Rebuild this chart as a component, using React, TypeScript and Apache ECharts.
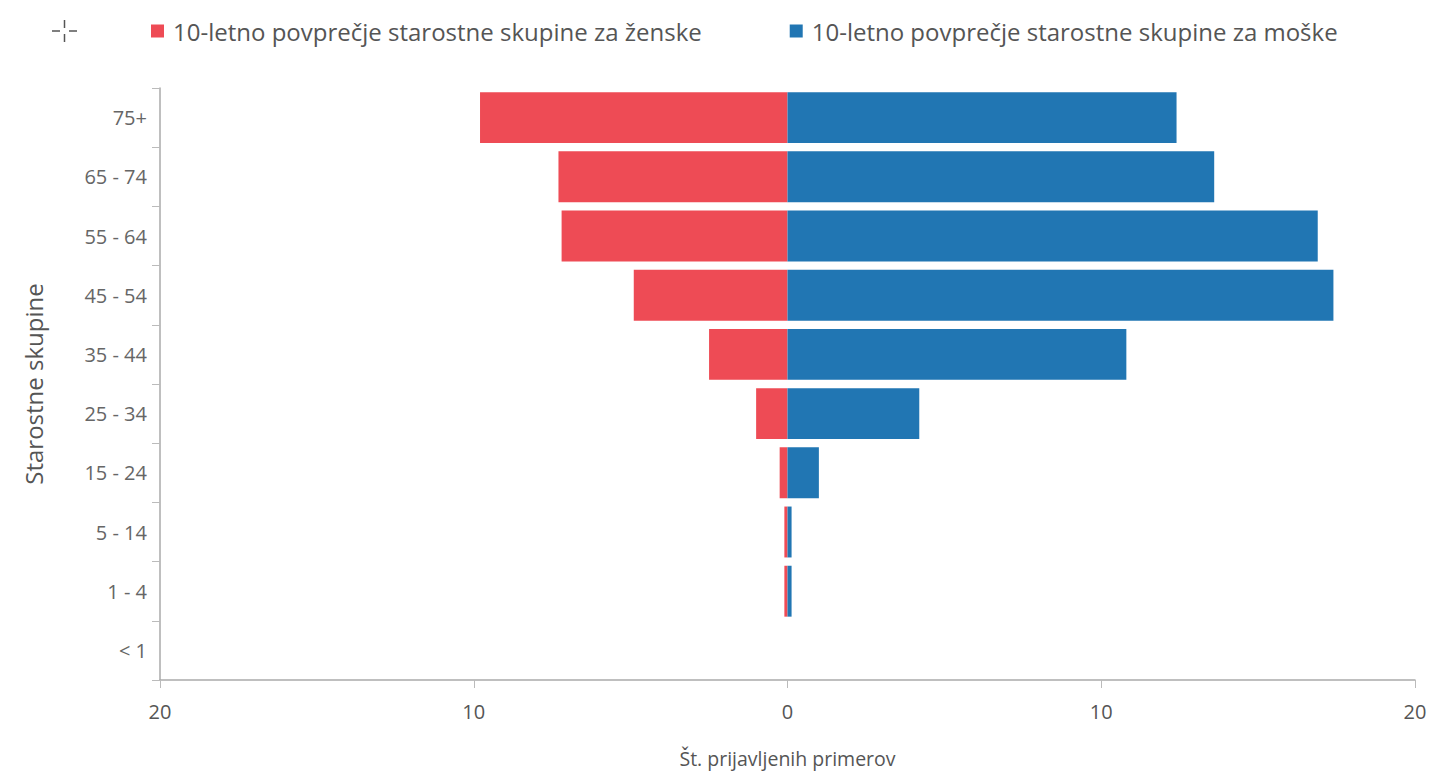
import React, { useEffect, useRef } from "react";
import * as echarts from "echarts";

const categories = ["< 1", "1 - 4", "5 - 14", "15 - 24", "25 - 34", "35 - 44", "45 - 54", "55 - 64", "65 - 74", "75+"];
const women = [0, 0.1, 0.1, 0.25, 1.0, 2.5, 4.9, 7.2, 7.3, 9.8];
const men = [0, 0.13, 0.13, 1.0, 4.2, 10.8, 17.4, 16.9, 13.6, 12.4];
const womenName = "10-letno povprečje starostne skupine za ženske";
const menName = "10-letno povprečje starostne skupine za moške";
const xTicks = [-20, -10, 0, 10, 20];

const FONT = "'Open Sans', sans-serif";

export default function App() {
  const ref = useRef<HTMLDivElement>(null);
  useEffect(() => {
    if (!ref.current) return;
    const chart = echarts.init(ref.current, undefined, { renderer: "svg" });
    chart.setOption({
      animation: false,
      textStyle: { fontFamily: FONT },
      legend: {
        left: 151,
        top: 19,
        padding: 0,
        itemWidth: 13,
        itemHeight: 13,
        itemGap: 88,
        icon: "rect",
        textStyle: { fontSize: 24, color: "#555", fontFamily: FONT, padding: [0, 0, 0, 4] },
        data: [womenName, menName],
      },
      graphic: [
        { type: "line", shape: { x1: 52, y1: 31, x2: 60, y2: 31 }, style: { stroke: "#555", lineWidth: 1.5 } },
        { type: "line", shape: { x1: 69, y1: 31, x2: 77, y2: 31 }, style: { stroke: "#555", lineWidth: 1.5 } },
        { type: "line", shape: { x1: 64.5, y1: 20, x2: 64.5, y2: 28 }, style: { stroke: "#555", lineWidth: 1.5 } },
        { type: "line", shape: { x1: 64.5, y1: 34, x2: 64.5, y2: 42 }, style: { stroke: "#555", lineWidth: 1.5 } },
      ],
      grid: { left: 160, right: 16, top: 88, bottom: 94 },
      xAxis: {
        type: "value",
        min: -20,
        max: 20,
        interval: 10,
        name: "Št. prijavljenih primerov",
        nameLocation: "middle",
        nameGap: 68,
        nameTextStyle: { fontSize: 19.5, color: "#555" },
        axisLine: { show: true, lineStyle: { color: "#aaa", width: 1.5 } },
        axisTick: { show: true, length: 8, lineStyle: { color: "#bbb" } },
        axisLabel: {
          fontSize: 20,
          color: "#555",
          margin: 21,
          formatter: (v: number) => String(Math.abs(v)),
          customValues: xTicks,
        },
        splitLine: { show: false },
      },
      yAxis: {
        type: "category",
        data: categories,
        name: "Starostne skupine",
        nameLocation: "middle",
        nameGap: 115,
        nameRotate: 90,
        nameTextStyle: { fontSize: 24, color: "#555" },
        axisLine: { show: true, onZero: false, lineStyle: { color: "#aaa", width: 1.5 } },
        axisTick: { show: true, length: 8, lineStyle: { color: "#bbb" } },
        axisLabel: { fontSize: 20, color: "#666", margin: 13 },
      },
      series: [
        {
          name: womenName,
          type: "bar",
          stack: "total",
          data: women.map((v) => -v),
          barCategoryGap: "14%",
          itemStyle: { color: "#ee4b55" },
        },
        {
          name: menName,
          type: "bar",
          stack: "total",
          data: men,
          barCategoryGap: "14%",
          itemStyle: { color: "#2176b3" },
        },
      ],
    });
    return () => chart.dispose();
  }, []);
  return (
    <div
      ref={ref}
      style={{ position: "absolute", left: 0, top: 0, width: 1431, height: 774, background: "#fff" }}
    />
  );
}
